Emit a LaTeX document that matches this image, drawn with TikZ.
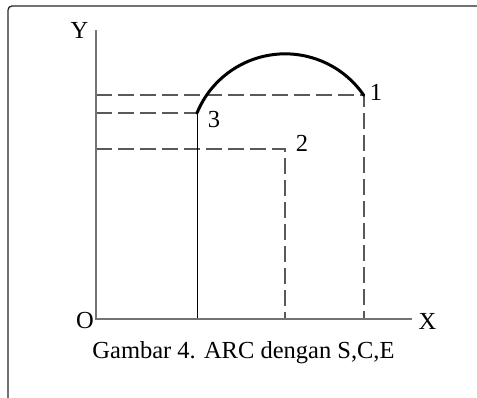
\documentclass[tikz,border=0pt]{standalone}
\usepackage{fontspec}
\setmainfont{Liberation Serif}
\usetikzlibrary{positioning}

\begin{document}
\begin{tikzpicture}[x=1pt,y=1pt,every node/.style={font=\fontsize{24.5}{28}\selectfont,inner sep=0pt},
    axis/.style={draw=black!55,line width=1.4pt},
    guide/.style={draw=black!65,line width=1.1pt,dash pattern=on 16pt off 6pt},
    arcline/.style={line width=3pt,line cap=round}]
            \useasboundingbox (0,0) rectangle (477,398);
            % frame
            \draw[line width=1.3pt,black!85,rounded corners=4pt] (8,-2) -- (8,392) -- (480,392);
            % points
            \coordinate (o) at (96,79);
            \coordinate (ytop) at (96,368);
            \coordinate (xend) at (412,79);
            \coordinate (p1) at (364,303);
            \coordinate (p2) at (285,249);
            \coordinate (p3) at (197,285);
            % guides
            \draw[guide] (o |- p1) -- (p1) -- (p1 |- o);
            \draw[guide] (o |- p2) -- (p2) -- (p2 |- o);
            \draw[guide] (o |- p3) -- (p3);
            \draw[black,line width=0.8pt] (p3) -- (p3 |- o);
            % axes
            \draw[axis] (ytop) -- (o) -- (xend);
            % arc S,C,E
            \draw[arcline] (p3) arc[start angle=157.7,end angle=34.4,radius=95.3];
            % labels
            \node[anchor=base] (ly) at (79.5,359) {Y};
            \node[anchor=base] (lo) at (85,69) {O};
            \node[anchor=base] (lx) at (427.5,68) {X};
            \node[anchor=base] (l1) at (376,297) {1};
            \node[anchor=base] (l2) at (302,246) {2};
            \node[anchor=base] (l3) at (214,270) {3};
            \node[anchor=base] (cap) at (243.5,39) {Gambar 4. ARC dengan S,C,E};
        \end{tikzpicture}
\end{document}
